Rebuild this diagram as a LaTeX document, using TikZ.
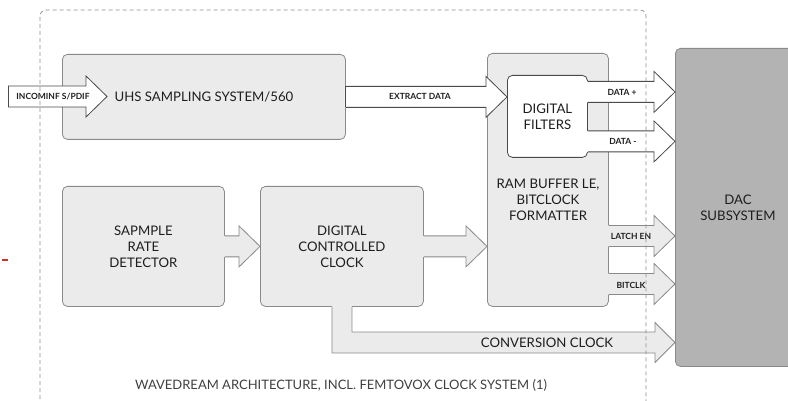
\documentclass[tikz,border=0pt]{standalone}
\usepackage{fontspec}
\setmainfont{Lato}
\usetikzlibrary{calc}
\definecolor{boxfill}{HTML}{EBEBEB}
\definecolor{boxline}{HTML}{8A8A8A}
\definecolor{dacfill}{HTML}{B3B3B3}
\definecolor{darkline}{HTML}{4A4A4A}
\definecolor{txt}{HTML}{1E1E1E}
\definecolor{frameline}{HTML}{8E8E8E}
\definecolor{redmark}{HTML}{D0312D}
\tikzset{
  gbox/.style={draw=boxline, fill=boxfill, line width=0.8pt, rounded corners=5pt, inner sep=0pt, anchor=north west, align=center, text=txt, font=\fontsize{13.2}{16}\selectfont},
  wbox/.style={gbox, fill=white, draw=darkline},
  dacbox/.style={gbox, fill=dacfill},
  lbl/.style={inner sep=0pt, text=txt, font=\bfseries\fontsize{8.5}{10}\selectfont},
  biglbl/.style={inner sep=0pt, text=txt, font=\fontsize{13.2}{16}\selectfont},
  framestyle/.style={draw=frameline, line width=0.7pt, dash pattern=on 4pt off 3pt, rounded corners=6pt},
}
% block arrow: #1 fill, #2 outline colour, #3 start point, #4 tip point (same height)
\newcommand\harrow[4]{%
  \fill[#1] let \p1=(#3), \p2=(#4) in
    (\x1-1.2pt,\y1+10.5pt) -- (\x2-21pt,\y1+10.5pt) -- (\x2-21pt,\y1+20.5pt) -- (\x2,\y1)
    -- (\x2-21pt,\y1-20.5pt) -- (\x2-21pt,\y1-10.5pt) -- (\x1-1.2pt,\y1-10.5pt) -- cycle;
  \draw[#2, line width=0.8pt, line join=miter] let \p1=(#3), \p2=(#4) in
    (\x1,\y1+10.5pt) -- (\x2-21pt,\y1+10.5pt) -- (\x2-21pt,\y1+20.5pt) -- (\x2,\y1)
    -- (\x2-21pt,\y1-20.5pt) -- (\x2-21pt,\y1-10.5pt) -- (\x1,\y1-10.5pt);
}
\newcommand\harrowend[2]{%
  \draw[#1, line width=0.8pt] let \p1=(#2) in (\x1,\y1+10.5pt) -- (\x1,\y1-10.5pt);
}
\begin{document}
\begin{tikzpicture}[x=1pt,y=-1pt]
\useasboundingbox (0,0) rectangle (788,401);
\clip (0,0) rectangle (788,401);

% boxes
\node[gbox, minimum width=283pt, minimum height=85pt] (uhs) at (62,54) {UHS SAMPLING SYSTEM/560};
\node[gbox, minimum width=121pt, minimum height=253pt] (ram) at (487,53) {};
\node[wbox, minimum width=80pt, minimum height=82pt] (filt) at (507,75) {DIGITAL\\FILTERS};
\node[gbox, minimum width=162pt, minimum height=120pt] (srd) at (62,186) {SAPMPLE\\RATE\\DETECTOR};
\node[gbox, minimum width=163pt, minimum height=120pt] (dcc) at (260,186) {DIGITAL\\CONTROLLED\\CLOCK};
\node[dacbox, minimum width=125pt, minimum height=318pt] (dac) at (675,48) {DAC\\SUBSYSTEM};
\node[biglbl, align=center] (ramlbl) at (548,200) {RAM BUFFER LE,\\BITCLOCK\\FORMATTER};

% coordinates
\coordinate (inc) at (8,96.5);
\coordinate (dp) at ($(filt.east)+(0,-24.5)$);
\coordinate (dm) at ($(filt.east)+(0,25)$);
\coordinate (le) at (ram.east |- 0,236);
\coordinate (bc) at (ram.east |- 0,284);
\coordinate (cc) at (342,342.5);

% arrows
\harrow{white}{darkline}{inc}{inc -| 107,0}
\harrowend{darkline}{inc}
\harrow{white}{darkline}{uhs.east}{uhs.east -| filt.west}
\harrowend{darkline}{uhs.east}
\harrow{white}{darkline}{dp}{dp -| dac.west}
\harrow{white}{darkline}{dm}{dm -| dac.west}
\harrow{boxfill}{boxline}{srd.east}{srd.east -| dcc.west}
\harrow{boxfill}{boxline}{dcc.east}{dcc.east -| ram.west}
\harrow{boxfill}{boxline}{le}{le -| dac.west}
\harrow{boxfill}{boxline}{bc}{bc -| dac.west}

% conversion clock arrow
\fill[boxfill] let \p1=(dcc.south), \p2=(cc -| dac.west) in
  (\x1-10pt,\y1+1.2pt) -- (\x1-10pt,\y2-10.5pt) -- (\x2-20pt,\y2-10.5pt) -- (\x2-20pt,\y2-20pt)
  -- (\x2,\y2) -- (\x2-20pt,\y2+20pt) -- (\x2-20pt,\y2+10.5pt) -- (\x1+10pt,\y2+10.5pt)
  -- (\x1+10pt,\y1+1.2pt) -- cycle;
\draw[boxline, line width=0.8pt] let \p1=(dcc.south), \p2=(cc -| dac.west) in
  (\x1-10pt,\y1) -- (\x1-10pt,\y2-10.5pt) -- (\x2-20pt,\y2-10.5pt) -- (\x2-20pt,\y2-20pt)
  -- (\x2,\y2) -- (\x2-20pt,\y2+20pt) -- (\x2-20pt,\y2+10.5pt) -- (\x1+10pt,\y2+10.5pt)
  -- (\x1+10pt,\y1);

% labels
\node[lbl] (linc) at (53,96.5) {INCOMINF S/PDIF};
\node[lbl] (lext) at (420,96.5) {EXTRACT DATA};
\node[lbl] (ldp) at (622,92) {DATA +};
\node[lbl] (ldm) at (623,141) {DATA -};
\node[lbl] (lle) at (631,236) {LATCH EN};
\node[lbl] (lbc) at (631,285) {BITCLK};
\node[biglbl] (lcc) at (547,343) {CONVERSION CLOCK};
\node[inner sep=0pt, text=txt!85!white, font=\fontsize{13}{15}\selectfont] (cap) at (341,385) {WAVEDREAM ARCHITECTURE, INCL. FEMTOVOX CLOCK SYSTEM (1)};

% dashed frame
\draw[framestyle] (40,420) -- (40,10) -- (646,10) -- (646,420);

% stray red mark
\coordinate (r1) at (2,260);
\coordinate (r2) at (8,260);
\draw[redmark, line width=1.2pt] (r1) -- (r2);
\end{tikzpicture}
\end{document}
